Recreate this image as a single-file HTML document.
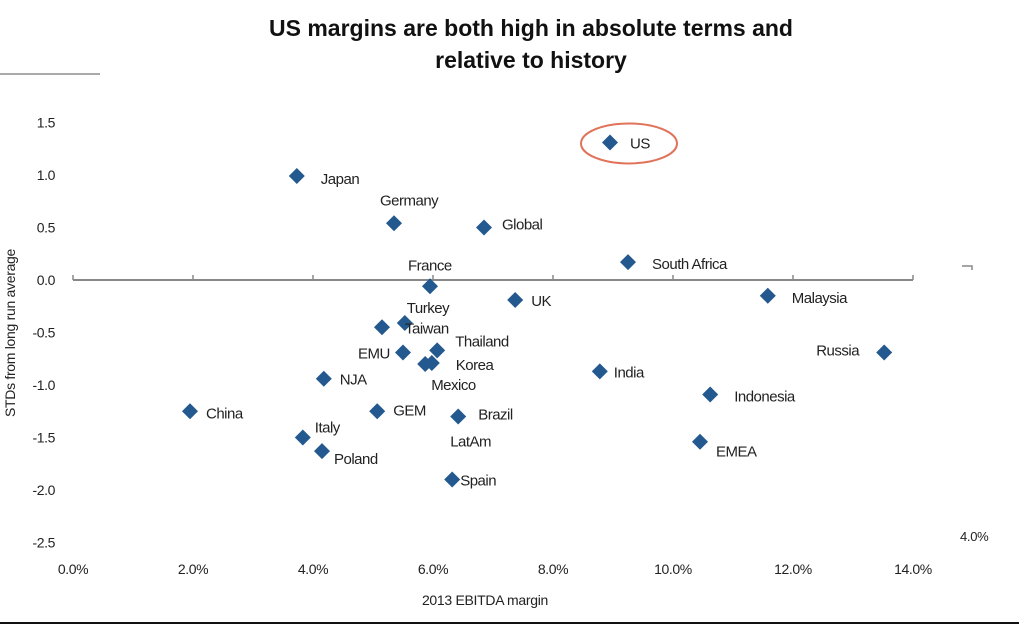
<!DOCTYPE html>
<html><head><meta charset="utf-8"><style>
body{margin:0;background:#fff;width:1019px;height:625px;overflow:hidden;font-family:"Liberation Sans",Arial,sans-serif;}
svg text{font-family:"Liberation Sans",Arial,sans-serif;}
</style></head><body>
<svg id="chart" width="1019" height="625" viewBox="0 0 1019 625">
<text x="531" y="36" text-anchor="middle" font-size="23" font-weight="bold" fill="#111">US margins are both high in absolute terms and</text>
<text x="531" y="68" text-anchor="middle" font-size="23" font-weight="bold" fill="#111">relative to history</text>
<line x1="0" y1="74" x2="100" y2="74" stroke="#aaa" stroke-width="2"/>
<line x1="0" y1="623" x2="1019" y2="623" stroke="#111" stroke-width="2"/>
<text transform="translate(15,333) rotate(-90)" text-anchor="middle" font-size="14" letter-spacing="-0.3" fill="#222">STDs from long run average</text>
<text x="485" y="605" text-anchor="middle" font-size="14" letter-spacing="-0.3" fill="#222">2013 EBITDA margin</text>
<text x="960" y="541" font-size="13" letter-spacing="-0.3" fill="#222">4.0%</text>
<path d="M962,266 H972 V270" stroke="#888" fill="none" stroke-width="1.5"/>
<g id="axes"></g>
<g id="marks"></g>
</svg>
<script>
const names=["US","Japan","Germany","Global","South Africa","France","UK","Malaysia","Turkey","Taiwan","EMU","Thailand","Korea","Mexico","Russia","India","NJA","Indonesia","China","GEM","Brazil","Italy","Poland","EMEA","Spain","LatAm"];
const margins=[8.95,3.73,5.35,6.85,9.25,5.95,7.37,11.58,5.53,5.15,5.5,6.07,5.98,5.87,13.52,8.78,4.18,10.62,1.95,5.07,6.42,3.83,4.15,10.45,6.32,null];
const stds=[1.31,0.99,0.54,0.50,0.17,-0.06,-0.19,-0.15,-0.41,-0.45,-0.69,-0.67,-0.79,-0.80,-0.69,-0.87,-0.94,-1.09,-1.25,-1.25,-1.30,-1.50,-1.63,-1.54,-1.90,-1.30];
const xTicks=[0,2,4,6,8,10,12,14];
const yTicks=[1.5,1.0,0.5,0.0,-0.5,-1.0,-1.5,-2.0,-2.5];
// label offsets (styling, px)
const ldx=[20,24,-14,18,24,-22,16,24,2,23,-45,18,24,6,-68,14,16,24,16,16,20,12,12,16,8,-8];
const ldy=[6,8,-18,2,7,-16,6,7,-10,6,6,-4,7,26,3,6,6,7,7,4,3,-5,13,15,6,30];
const labelRef=[0,1,2,3,4,5,6,7,8,9,10,11,12,13,14,15,16,17,18,19,20,21,22,23,24,20];

const X=v=>73+v*60, Y=v=>280-v*105;
const NS="http://www.w3.org/2000/svg";
const ax=document.getElementById('axes'), mk=document.getElementById('marks');
function el(t,a,p){const e=document.createElementNS(NS,t);for(const k in a)e.setAttribute(k,a[k]);p.appendChild(e);return e;}
const zl=el('line',{x1:X(0),y1:Y(0),x2:X(14),y2:Y(0),stroke:'#888','stroke-width':2},ax);


xTicks.forEach(t=>{
  const tk=el('line',{x1:X(t),y1:Y(0),x2:X(t),y2:Y(0)-5,stroke:'#888','stroke-width':1.5},ax);
  
  
  const tx=el('text',{x:X(t),y:574,'text-anchor':'middle','font-size':14,'letter-spacing':-0.4,fill:'#222'},ax);
  tx.textContent=t.toFixed(1)+'%';
  
  
});
yTicks.forEach(t=>{
  const tx=el('text',{x:55,y:Y(t)+5,'text-anchor':'end','font-size':14,'letter-spacing':-0.4,fill:'#222'},ax);
  tx.textContent=t.toFixed(1);
  
  
});
names.forEach((n,i)=>{
  const r=labelRef[i];
  const cx=X(margins[r]), cy=Y(stds[i]);
  if(margins[i]!==null){
    const d=el('path',{d:`M${cx},${cy-8} L${cx+8},${cy} L${cx},${cy+8} L${cx-8},${cy} Z`,fill:'#23598f'},mk);
    
    
  }
  const t=el('text',{x:cx+ldx[i],y:cy+ldy[i],'font-size':15,'letter-spacing':-0.5,fill:'#222'},mk);
  t.textContent=n;
  
  
  if(n==="US"){
    const e=el('ellipse',{cx:cx+19,cy:cy+1,rx:48,ry:20,fill:'none',stroke:'#e0735a','stroke-width':2},mk);
    
    
  }
});
</script>
</body></html>
